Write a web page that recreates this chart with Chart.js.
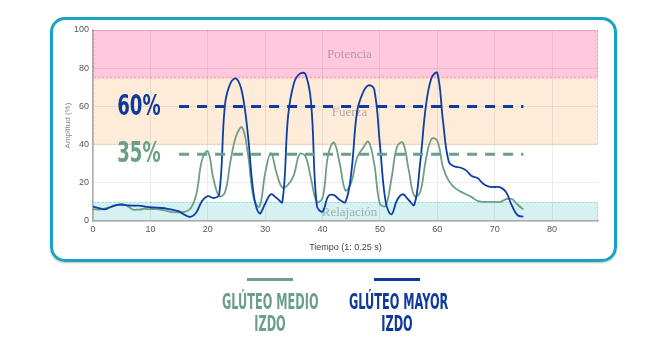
<!DOCTYPE html>
<html lang="es">
<head>
<meta charset="utf-8">
<title>Glúteo medio / mayor izdo</title>
<script src="https://cdn.jsdelivr.net/npm/chart.js@4.4.1/dist/chart.umd.min.js"></script>
<style>
  html, body { margin: 0; padding: 0; background: #fff; }
  #lienzo { position: relative; width: 672px; height: 344px; overflow: hidden; }
  #marco {
    position: absolute; left: 50px; top: 17px; width: 561px; height: 239px;
    border: 3px solid #17a3c4; border-radius: 15px;
    box-shadow: 0 1px 2px rgba(0, 0, 0, 0.25);
  }
  #grafico { position: absolute; left: 0; top: 0; }
  .serie { position: absolute; top: 278px; width: 160px; text-align: center; }
  .serie .raya { width: 46px; height: 3px; margin: 0 auto; }
  .serie .nombre {
    margin-top: 10px;
    font: bold 21px "Liberation Sans Narrow", "DejaVu Sans Condensed", sans-serif;
    line-height: 22px; transform: scaleX(0.6); transform-origin: center top;
    white-space: nowrap;
  }
</style>
</head>
<body>
<div id="lienzo">
  <div id="marco"></div>
  <canvas id="grafico" width="672" height="344"></canvas>
  <div class="serie" style="left:190px">
    <div class="raya" style="background:#6b9f89"></div>
    <div class="nombre" style="color:#6b9f89">GLÚTEO MEDIO<br>IZDO</div>
  </div>
  <div class="serie" style="left:317px">
    <div class="raya" style="background:#0f3a9b"></div>
    <div class="nombre" style="color:#0f3a9b">GLÚTEO MAYOR<br>IZDO</div>
  </div>
</div>
<script>
// Tiempo (muestras de 0.25 s)
const tiempo = [
  0, 1, 2, 3, 4, 5, 6, 7, 8, 9, 10, 11, 12, 13, 14, 15, 16, 17, 18, 19,
  20, 21, 22, 23, 24, 25, 26, 27, 28, 29, 30, 31, 32, 33, 34, 35, 36, 37, 38, 39,
  40, 41, 42, 43, 44, 45, 46, 47, 48, 49, 50, 51, 52, 53, 54, 55, 56, 57, 58, 59,
  60, 61, 62, 63, 64, 65, 66, 67, 68, 69, 70, 71, 72, 73, 74, 75
];

// Amplitud (%) glúteo medio izquierdo
const gluteoMedio = [
  6.1, 6.0, 6.5, 7.3, 8.2, 8.9, 7.8, 6.0, 6.0, 6.3, 6.2, 6.2, 5.8, 5.2, 4.6, 4.5, 4.8, 6.5, 14, 32,
  36.5, 22, 13, 15, 32, 45, 49, 35, 12, 7.5, 25, 35.5, 25, 17.5, 19, 24, 35, 34, 22, 10,
  12, 35, 41, 30, 16, 20, 33, 38, 41.5, 30, 9, 8, 22, 39, 41, 27, 13, 15, 32, 43,
  42, 28, 21, 17.5, 15.5, 14, 12.5, 10.5, 10, 10, 10, 10, 11.5, 11.5, 8.5, 6.1
];

// Amplitud (%) glúteo mayor izquierdo
const gluteoMayor = [
  7.5, 6.8, 6.1, 7.2, 8.3, 8.4, 8.2, 8.0, 8.0, 7.6, 7.2, 7.0, 6.8, 6.4, 5.8, 5.0, 3.2, 2.2, 4.5, 10.5,
  13.0, 12.0, 14.0, 61, 72.5, 74.5, 67, 45, 14, 4, 9, 14, 12, 10, 55, 72, 77, 77, 62, 8,
  5, 13, 13.5, 11, 10, 25, 57, 67, 71, 69, 40, 10, 3.5, 11, 14, 11, 8.5, 30, 60, 75,
  77.5, 52, 31, 28.5, 28, 26.5, 23.5, 22.5, 19.5, 18, 17.8, 17.6, 15, 8, 3, 2.3
];

// Zonas de trabajo
const zonaNombres = ["Relajación", "Fuerza", "Potencia"];
const zonaDesde = [0, 40, 75];
const zonaHasta = [10, 75, 100];
const zonaFondo = ["#d6f1f1", "#feebd8", "#ffc8dc"];
const zonaBorde = ["#8fd6d8", "#f7c592", "#ff86b4"];

// Umbrales de referencia
const umbrales = [60, 35];
const umbralTextos = ["60%", "35%"];
const umbralColores = ["#0f3a9b", "#6b9f89"];
const umbralInicio = 15;
const umbralFin = 75;

const ejeXMax = 88;

function puntos(valores) {
  return tiempo.map((t, i) => ({ x: t, y: valores[i] }));
}

// Fondos de las zonas con sus nombres
const pluginZonas = {
  id: "zonas",
  beforeDraw(chart) {
    const { ctx, scales: { x, y } } = chart;
    const x0 = x.getPixelForValue(0);
    const x1 = x.getPixelForValue(ejeXMax);
    ctx.save();
    zonaNombres.forEach((nombre, i) => {
      const yTop = y.getPixelForValue(zonaHasta[i]);
      const yBot = y.getPixelForValue(zonaDesde[i]);
      ctx.fillStyle = zonaFondo[i];
      ctx.fillRect(x0, yTop, x1 - x0, yBot - yTop);
    });
    zonaNombres.forEach((nombre, i) => {
      const yTop = y.getPixelForValue(zonaHasta[i]);
      const yBot = y.getPixelForValue(zonaDesde[i]);
      ctx.strokeStyle = zonaBorde[i];
      ctx.lineWidth = 1;
      ctx.setLineDash([2, 2]);
      ctx.strokeRect(x0 + 0.5, yTop + 0.5, x1 - x0 - 1, yBot - yTop - 1);
    });
    ctx.setLineDash([]);
    ctx.font = '13px "Liberation Serif", "DejaVu Serif", serif';
    ctx.fillStyle = "rgba(115, 115, 115, 0.55)";
    ctx.textAlign = "center";
    ctx.textBaseline = "middle";
    zonaNombres.forEach((nombre, i) => {
      const yMid = y.getPixelForValue((zonaDesde[i] + zonaHasta[i]) / 2);
      ctx.fillText(nombre, (x0 + x1) / 2 + 4, yMid + 1);
    });
    ctx.restore();
  }
};

// Rótulos de los umbrales
const pluginUmbrales = {
  id: "umbrales",
  afterDatasetsDraw(chart) {
    const { ctx, scales: { x, y } } = chart;
    ctx.save();
    ctx.font = 'bold 28px "Liberation Sans Narrow", "DejaVu Sans Condensed", sans-serif';
    ctx.textAlign = "center";
    ctx.textBaseline = "middle";
    umbrales.forEach((valor, i) => {
      const px = x.getPixelForValue(8);
      const py = y.getPixelForValue(valor);
      ctx.fillStyle = umbralColores[i];
      ctx.save();
      ctx.translate(px, py + 1);
      ctx.scale(0.72, 1);
      ctx.fillText(umbralTextos[i], 0, 0);
      ctx.restore();
    });
    ctx.restore();
  }
};

const umbralDatasets = umbrales.map((valor, i) => ({
  label: umbralTextos[i],
  data: [{ x: umbralInicio, y: valor }, { x: umbralFin, y: valor }],
  borderColor: umbralColores[i],
  borderWidth: 3,
  borderDash: [10, 8],
  pointRadius: 0,
  tension: 0,
  order: 0
}));

new Chart(document.getElementById("grafico"), {
  type: "line",
  data: {
    datasets: [
      ...umbralDatasets,
      {
        label: "Glúteo mayor izdo",
        data: puntos(gluteoMayor),
        borderColor: "#0d3ea6",
        borderWidth: 1.8,
        pointRadius: 0,
        tension: 0.4,
        order: 1
      },
      {
        label: "Glúteo medio izdo",
        data: puntos(gluteoMedio),
        borderColor: "#6c9e88",
        borderWidth: 1.8,
        pointRadius: 0,
        tension: 0.4,
        order: 2
      }
    ]
  },
  options: {
    responsive: false,
    animation: false,
    layout: { padding: { left: 59, right: 74, top: 30, bottom: 87 } },
    plugins: {
      legend: { display: false },
      tooltip: { enabled: false }
    },
    scales: {
      x: {
        type: "linear",
        min: 0,
        max: ejeXMax,
        afterFit(scale) { scale.height = 36; },
        afterBuildTicks(scale) {
          scale.ticks = scale.ticks.filter((t) => t.value % 10 === 0);
        },
        ticks: {
          stepSize: 10,
          padding: 3,
          color: "#555",
          font: { family: '"Liberation Sans", Arial, sans-serif', size: 9 }
        },
        grid: { color: "rgba(0, 0, 0, 0.07)", drawTicks: false },
        border: { color: "#aaa", width: 1.5 },
        title: {
          display: true,
          text: "Tiempo (1: 0.25 s)",
          color: "#444",
          font: { family: '"Liberation Sans", Arial, sans-serif', size: 9 }
        }
      },
      y: {
        min: 0,
        max: 100,
        afterFit(scale) { scale.width = 34; },
        ticks: {
          stepSize: 20,
          padding: 4,
          color: "#555",
          font: { family: '"Liberation Sans", Arial, sans-serif', size: 9 }
        },
        grid: { color: "rgba(0, 0, 0, 0.07)", drawTicks: false },
        border: { color: "#aaa", width: 1.5 },
        title: {
          display: true,
          text: "Amplitud (%)",
          color: "#888",
          font: { family: '"Liberation Sans", Arial, sans-serif', size: 8 }
        }
      }
    }
  },
  plugins: [pluginZonas, pluginUmbrales]
});
</script>
</body>
</html>
